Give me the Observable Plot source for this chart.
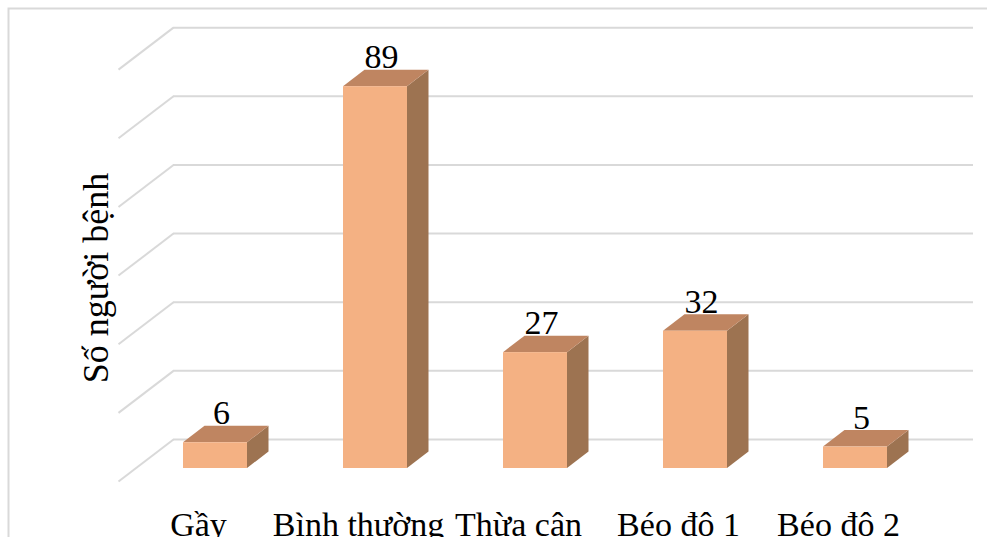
<!DOCTYPE html>
<html>
<head>
<meta charset="utf-8">
<script src="https://cdn.jsdelivr.net/npm/d3@7"></script>
<script src="https://cdn.jsdelivr.net/npm/@observablehq/plot@0.6"></script>
<style>
  html, body { margin: 0; padding: 0; background: #fff; overflow: hidden; }
</style>
</head>
<body>
<div id="chart"></div>
<script>
// Số người bệnh theo phân loại BMI
const categories = ["Gầy", "Bình thường", "Thừa cân", "Béo độ 1", "Béo độ 2"];
const patients = [6, 89, 27, 32, 5];
const gridTicks = [0, 16, 32, 48, 64, 80, 96];
const yTitle = "Số người bệnh";

// Layout (pixels)
const W = 987, H = 537;
const firstCentre = 215, step = 160;      // category centres along x
const yBase = 468, yUnit = 4.29;          // front baseline and px per patient
const halfBarPx = 32;                     // half the width of a column face
const depthPx = [21.5, -16.5];            // oblique offset of a column's depth
const wallShiftPx = -29;                  // back wall sits above the columns' front
const wallLeftPx = 173, wallRightPx = 973, floorLeftPx = 118, floorDropPx = 42;
const floorEdgeShiftPx = -17;             // category labels sit under the floor's front edge

const gridColor = "#d9d9d9";
const frontColor = "#F4B183", topColor = "#BF8561", sideColor = "#9D7351";
const serif = "'Liberation Serif', 'Times New Roman', serif";

// pixel lengths expressed in scale units
const ux = p => p / step;
const uy = p => p / yUnit;
const hw = ux(halfBarPx), ddx = ux(depthPx[0]), ddy = uy(-depthPx[1]);
const wallL = ux(wallLeftPx - firstCentre), wallR = ux(wallRightPx - firstCentre);
const floorL = ux(floorLeftPx - firstCentre), drop = uy(floorDropPx);

const bars = categories.map((c, i) => ({cat: c, i, value: patients[i]}));
const sidePts = bars.flatMap(d => [
  {cat: d.cat, x: d.i + hw, y1: 0, y2: d.value},
  {cat: d.cat, x: d.i + hw + ddx, y1: ddy, y2: d.value + ddy}
]);
const topPts = bars.flatMap(d => [
  {cat: d.cat, y: d.value, x1: d.i - hw, x2: d.i + hw},
  {cat: d.cat, y: d.value + ddy, x1: d.i - hw + ddx, x2: d.i + hw + ddx}
]);

const chart = Plot.plot({
  width: W,
  height: H,
  margin: 0,
  style: {background: "#fff", fontFamily: serif, color: "#000"},
  x: {type: "linear", domain: [0, categories.length - 1], range: [firstCentre, firstCentre + step * (categories.length - 1)], axis: null},
  y: {type: "linear", domain: [0, 100], range: [yBase, yBase - 100 * yUnit], axis: null},
  marks: [
    // chart area border
    Plot.frame({stroke: gridColor, strokeWidth: 2, insetLeft: 8, insetTop: 8, insetRight: -20, insetBottom: -20}),
    // back wall gridlines and their side-wall returns
    Plot.ruleY(gridTicks, {y: d => d, x1: wallL, x2: wallR, dy: wallShiftPx, stroke: gridColor, strokeWidth: 2}),
    Plot.link(gridTicks, {x1: wallL, y1: d => d, x2: floorL, y2: d => d - drop, dy: wallShiftPx, stroke: gridColor, strokeWidth: 2}),
    // column faces
    Plot.areaY(sidePts, {x: "x", y1: "y1", y2: "y2", z: "cat", fill: sideColor}),
    Plot.areaX(topPts, {y: "y", x1: "x1", x2: "x2", z: "cat", fill: topColor}),
    Plot.rect(bars, {x1: d => d.i - hw, x2: d => d.i + hw, y1: 0, y2: "value", fill: frontColor}),
    // value labels
    Plot.text(bars, {x: "i", y: d => d.value + ddy, text: d => String(d.value), dx: 6, dy: -2,
      lineAnchor: "bottom", fontSize: 34, fontFamily: serif, fill: "#000"}),
    // category labels
    Plot.text(categories, {x: (d, i) => i, text: d => d, frameAnchor: "bottom", lineAnchor: "bottom",
      dx: floorEdgeShiftPx, dy: -2, textAnchor: "middle", fontSize: 34, fontFamily: serif, fill: "#000"}),
    // axis title
    Plot.text([yTitle], {frameAnchor: "left", text: d => d, rotate: -90, dx: 107, dy: 9,
      textAnchor: "middle", lineAnchor: "bottom", fontSize: 36, fontFamily: serif, fill: "#000"})
  ]
});

document.getElementById("chart").appendChild(chart);
</script>
</body>
</html>
